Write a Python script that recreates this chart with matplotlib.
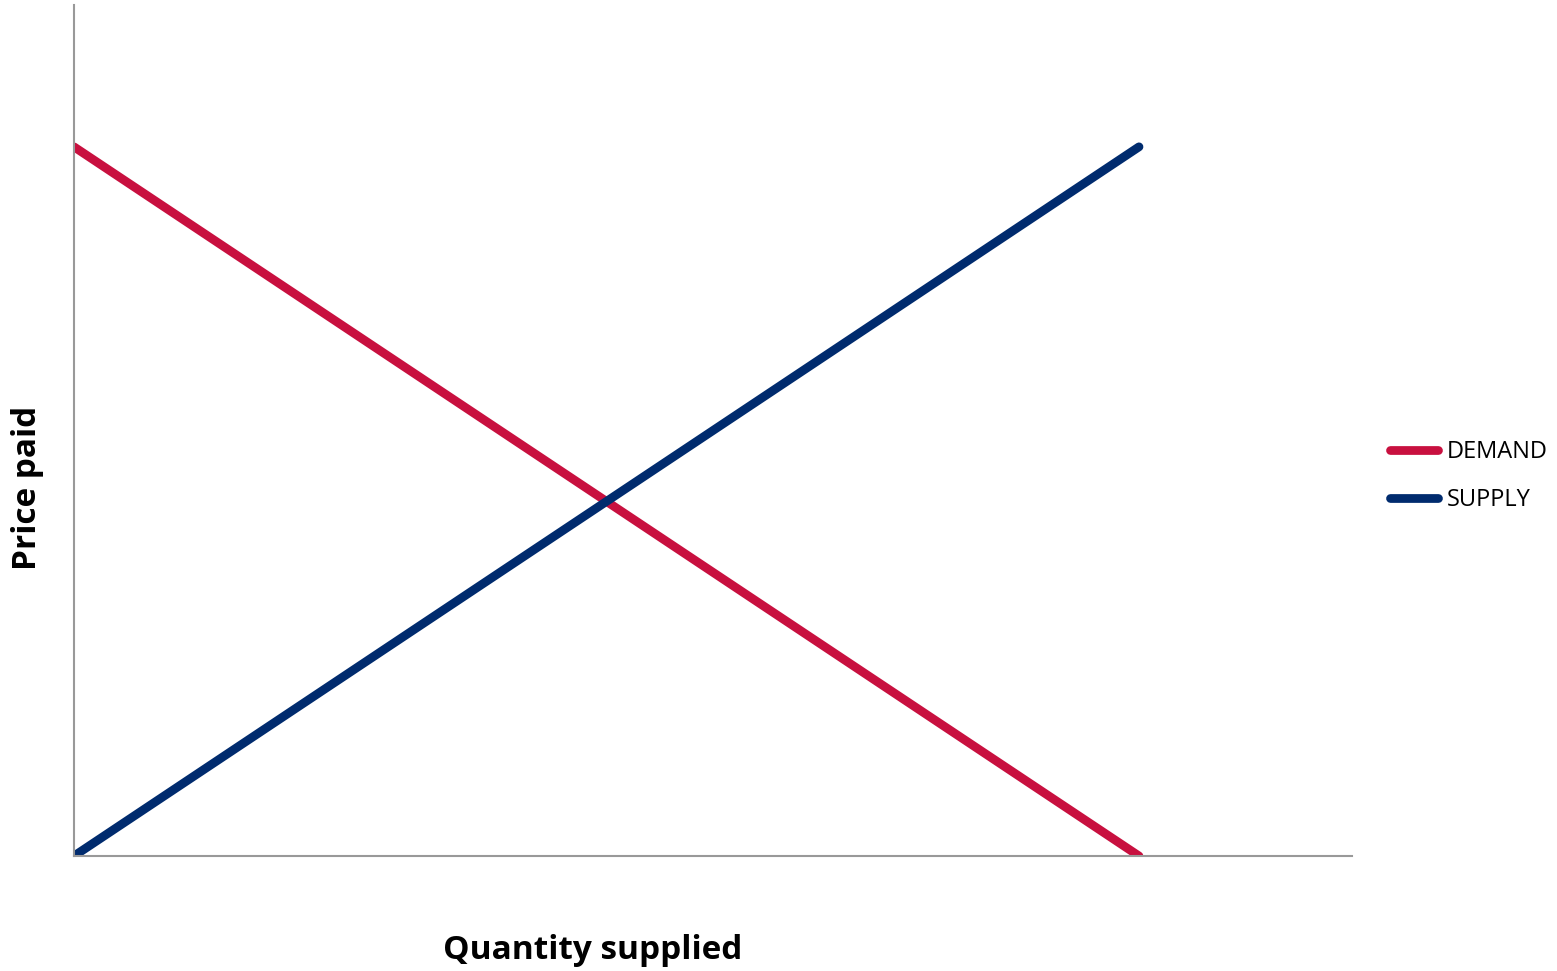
import matplotlib.pyplot as plt

plt.rcParams['font.family'] = ['Open Sans', 'DejaVu Sans']

# Quantity (x) and price (y) for each curve
quantity = [0, 10]
demand = [10, 0]
supply = [0, 10]
labels = ['DEMAND', 'SUPPLY']
colors = ['#C8103F', '#002B6E']

fig = plt.figure(figsize=(15.57, 9.71), dpi=100)
ax = fig.add_axes([74 / 1557, 1 - 856 / 971, (1352 - 74) / 1557, (856 - 5) / 971])

ax.plot(quantity, demand, color=colors[0], lw=6.3, solid_capstyle='round', label=labels[0])
ax.plot(quantity, supply, color=colors[1], lw=6.3, solid_capstyle='round', label=labels[1])

ax.set_xlim(0, 12)
ax.set_ylim(0, 12)
ax.set_xticks([])
ax.set_yticks([])
for s in ['top', 'right']:
    ax.spines[s].set_visible(False)
for s in ['left', 'bottom']:
    ax.spines[s].set_color('#999999')
    ax.spines[s].set_linewidth(1.5)

fig.text(593 / 1557, 1 - 950 / 971, 'Quantity supplied', ha='center', va='center',
         fontsize=24, fontweight='bold')
fig.text(28 / 1557, 1 - 488 / 971, 'Price paid', ha='center', va='center',
         rotation=90, fontsize=24, fontweight='bold')

fig.legend(loc='center left', bbox_to_anchor=(1381 / 1557, 1 - 476 / 971), frameon=False,
           borderaxespad=0, fontsize=17, handlelength=2.0, handletextpad=0.39,
           labelspacing=1.0)

fig.savefig('out.png', dpi=100)
